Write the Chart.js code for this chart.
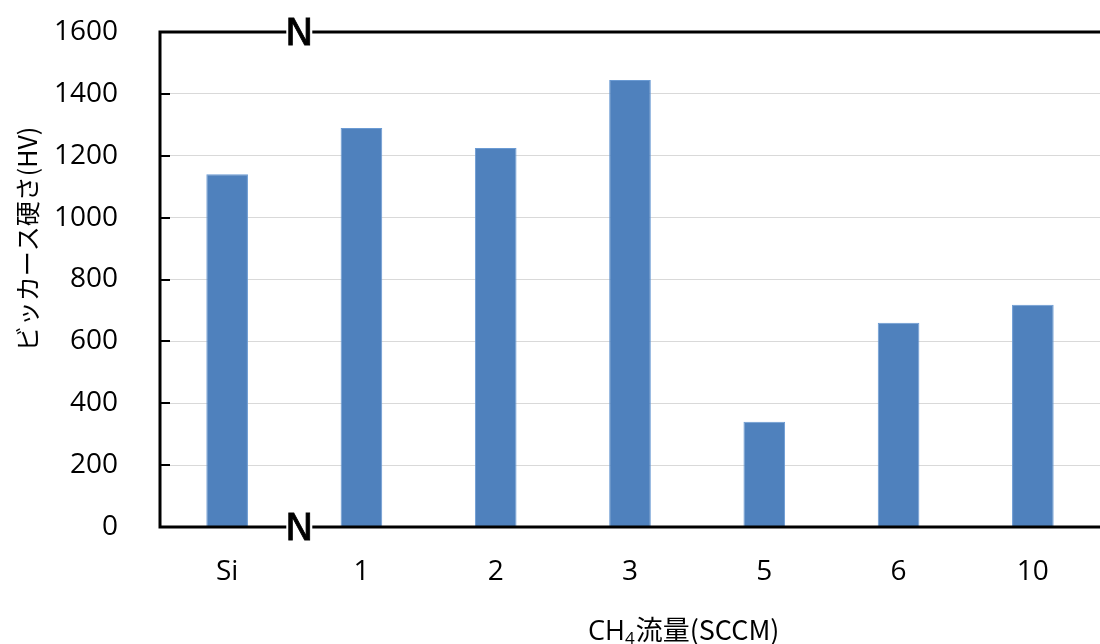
<!DOCTYPE html>
<html>
<head>
<meta charset="utf-8">
<script src="https://cdn.jsdelivr.net/npm/chart.js@4/dist/chart.umd.min.js"></script>
<style>
  html, body { margin: 0; padding: 0; background: #fff; }
  #wrap { width: 1100px; height: 644px; position: relative; }
</style>
</head>
<body>
<div id="wrap"><canvas id="hardnessChart"></canvas></div>
<script>
// Vickers hardness vs CH4 flow rate

const flowLabels = ['Si', '1', '2', '3', '5', '6', '10'];
const hardnessValues = [1140, 1290, 1225, 1445, 340, 660, 718];
const yTicks = [0, 200, 400, 600, 800, 1000, 1200, 1400, 1600];

const fontFamily = '"Open Sans", "Noto Sans CJK JP", sans-serif';
const jpFont = '"Noto Sans CJK JP", "Open Sans", sans-serif';

// axis frame, inner ticks, break marks and titles
const framePlugin = {
    id: 'frame',
    afterDraw(chart) {
        const ctx = chart.ctx;
        const a = chart.chartArea;
        const x = chart.scales.x;
        const y = chart.scales.y;
        ctx.save();
        ctx.strokeStyle = '#000';
        ctx.lineWidth = 3;
        ctx.beginPath();
        ctx.moveTo(a.left, a.top);
        ctx.lineTo(a.right, a.top);
        ctx.moveTo(a.left, a.top - 1.5);
        ctx.lineTo(a.left, a.bottom + 1.5);
        ctx.moveTo(a.left, a.bottom);
        ctx.lineTo(a.right, a.bottom);
        ctx.stroke();

        // tick marks pointing into the plot
        ctx.lineWidth = 2;
        ctx.beginPath();
        yTicks.forEach(function (v) {
            const py = Math.round(y.getPixelForValue(v));
            ctx.moveTo(a.left, py);
            ctx.lineTo(a.left + 10, py);
        });
        ctx.stroke();

        // axis break "N" between the first two categories
        const bx = (x.getPixelForValue(0) + x.getPixelForValue(1)) / 2 + 5;
        [a.top, a.bottom].forEach(function (py) {
            ctx.fillStyle = '#fff';
            ctx.fillRect(bx - 13, py - 3, 26, 6);
            ctx.fillStyle = '#000';
            ctx.strokeStyle = '#000';
            ctx.lineWidth = 0.8;
            ctx.font = '38px "DejaVu Sans", sans-serif';
            ctx.textAlign = 'center';
            ctx.textBaseline = 'middle';
            ctx.fillText('N', bx, py + 3);
            ctx.strokeText('N', bx, py + 3);
        });

        // y title
        ctx.save();
        ctx.translate(27, 239);
        ctx.rotate(-Math.PI / 2);
        ctx.fillStyle = '#000';
        ctx.font = '25px ' + jpFont;
        ctx.textAlign = 'center';
        ctx.textBaseline = 'middle';
        ctx.fillText('ビッカース硬さ(HV)', 0, 0);
        ctx.restore();

        // x title with subscript
        ctx.fillStyle = '#000';
        ctx.textBaseline = 'alphabetic';
        ctx.textAlign = 'left';
        let tx = 588;
        const ty = 640;
        ctx.font = '27px ' + fontFamily;
        ctx.fillText('CH', tx, ty);
        tx += ctx.measureText('CH').width;
        ctx.font = '17px ' + fontFamily;
        ctx.fillText('4', tx, ty + 4);
        tx += ctx.measureText('4').width + 1;
        ctx.font = '27px ' + jpFont;
        ctx.fillText('流量(SCCM)', tx, ty);
        ctx.restore();
    }
};

new Chart(document.getElementById('hardnessChart'), {
    type: 'bar',
    data: {
        labels: flowLabels,
        datasets: [{
            data: hardnessValues,
            backgroundColor: '#4f81bd',
            borderColor: '#6a9ad3',
            borderWidth: 1,
            barPercentage: 0.31,
            categoryPercentage: 1.0
        }]
    },
    options: {
        responsive: true,
        maintainAspectRatio: false,
        animation: false,
        layout: { autoPadding: false, padding: { top: 32, right: 0, left: 0, bottom: 0 } },
        plugins: {
            legend: { display: false },
            tooltip: { enabled: false }
        },
        scales: {
            x: {
                grid: { display: false, drawTicks: false },
                border: { display: false },
                ticks: {
                    color: '#000',
                    padding: 28,
                    font: { family: fontFamily, size: 28 }
                },
                afterFit(scale) {
                    scale.height = 117;
                    scale.paddingLeft = 0;
                    scale.paddingRight = 0;
                }
            },
            y: {
                min: 0,
                max: 1600,
                afterBuildTicks(scale) {
                    scale.ticks = yTicks.map(function (v) { return { value: v }; });
                },
                grid: {
                    drawTicks: false,
                    lineWidth: 1,
                    color(ctx) {
                        const v = ctx.tick && ctx.tick.value;
                        return (v === 0 || v === 1600) ? 'rgba(0,0,0,0)' : '#d9d9d9';
                    }
                },
                border: { display: false },
                ticks: {
                    color: '#000',
                    padding: 42,
                    font: { family: fontFamily, size: 28 },
                    callback(v) { return String(v); }
                },
                afterFit(scale) {
                    scale.width = 160;
                    scale.paddingTop = 0;
                    scale.paddingBottom = 0;
                }
            }
        }
    },
    plugins: [framePlugin]
});
</script>
</body>
</html>
